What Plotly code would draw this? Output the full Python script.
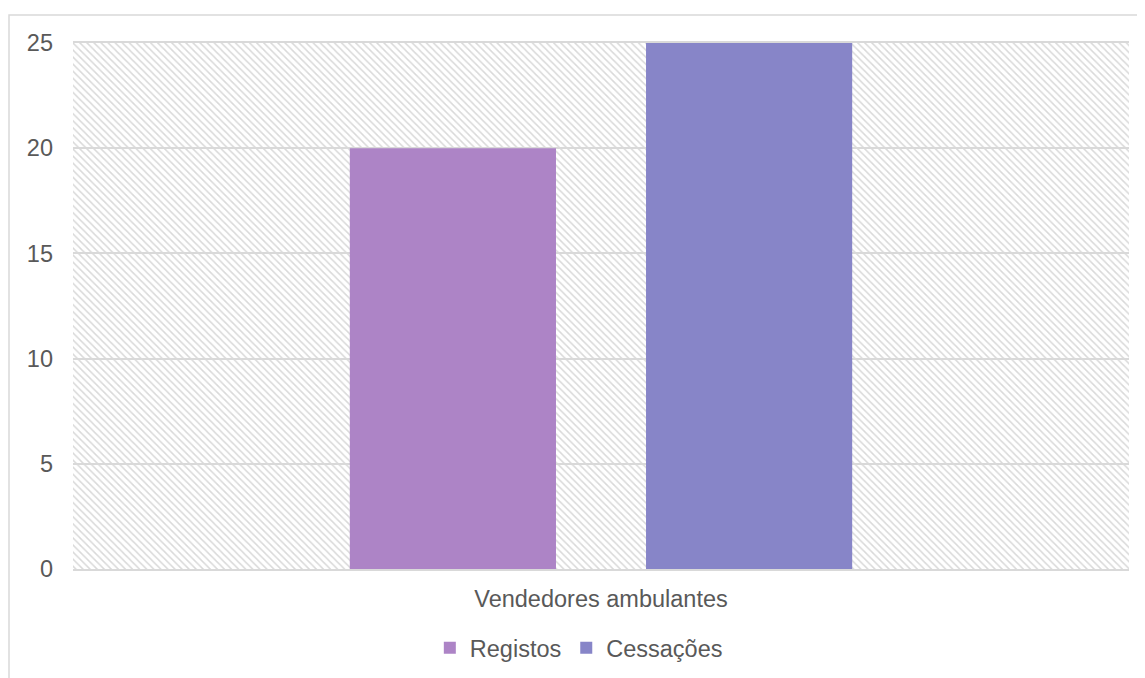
import plotly.graph_objects as go

categories = ["Vendedores ambulantes"]
registos = [20]
cessacoes = [25]
y_ticks = [0, 5, 10, 15, 20, 25]

FONT = "Liberation Sans, Arial, sans-serif"
GRAY = "#595959"
GRID = "#d9d9d9"
FS = 23.5

fig = go.Figure()

# hatched plot-area background (drawn on the numeric base axis)
fig.add_trace(go.Bar(
    x=[0.5], y=[max(y_ticks)], width=[1], xaxis="x", yaxis="y",
    marker=dict(color="rgba(0,0,0,0)", line=dict(width=0),
                pattern=dict(shape="\\", fgcolor="#d9d9d9", bgcolor="rgba(0,0,0,0)",
                             size=5, solidity=0.3, fillmode="replace")),
    showlegend=False, hoverinfo="skip",
))

fig.add_trace(go.Bar(name="Registos", x=categories, y=registos, xaxis="x2", yaxis="y",
                     marker=dict(color="#AD84C6", line=dict(width=0))))
fig.add_trace(go.Bar(name="Cessações", x=categories, y=cessacoes, xaxis="x2", yaxis="y",
                     marker=dict(color="#8785C8", line=dict(width=0))))

fig.update_layout(
    width=1137, height=670,
    margin=dict(l=65, r=16, t=35, b=109, autoexpand=False),
    paper_bgcolor="white", plot_bgcolor="white",
    font=dict(family=FONT, size=FS, color=GRAY),
    barmode="group", bargap=0.439, bargroupgap=0.304,
    xaxis=dict(range=[0, 1], showticklabels=False, showgrid=False, zeroline=False,
               showline=True, linecolor=GRID, linewidth=1.5, mirror=True, ticks=""),
    xaxis2=dict(overlaying="x", side="bottom", type="category", showgrid=False,
                zeroline=False, showline=False, ticks="",
                tickfont=dict(family=FONT, size=FS, color=GRAY), ticklabelstandoff=13),
    yaxis=dict(range=[0, 25], tickvals=y_ticks, showgrid=True, gridcolor=GRID, gridwidth=1.5,
               zeroline=False, showline=False, ticks="", ticklabelstandoff=19,
               tickfont=dict(family=FONT, size=FS, color=GRAY)),
    legend=dict(orientation="h", x=0.479, xanchor="center", y=-0.150, yanchor="middle",
                font=dict(family=FONT, size=FS, color=GRAY), itemwidth=30,
                traceorder="normal"),
    shapes=[dict(type="rect", xref="paper", yref="paper",
                 x0=-0.0606, x1=1.2, y0=-0.4, y1=1.053,
                 line=dict(color=GRID, width=1.5), fillcolor="rgba(0,0,0,0)", layer="below")],
)

fig.write_html("out.html")
